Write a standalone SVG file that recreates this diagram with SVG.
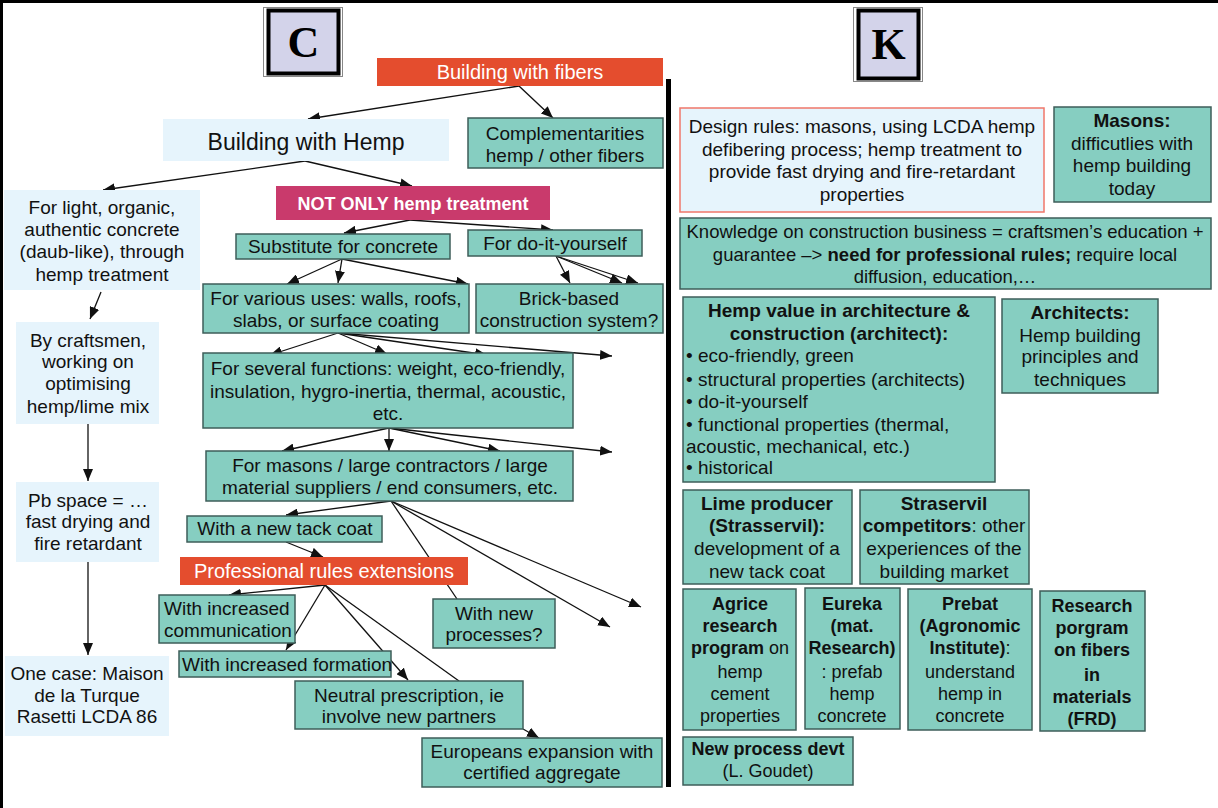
<svg xmlns="http://www.w3.org/2000/svg" width="1218" height="808" viewBox="0 0 1218 808">
<defs>
<style>
.t{font-family:"Liberation Sans",Arial,Helvetica,sans-serif;font-size:19px;fill:#111}
.s{font-size:18px}
.b{font-weight:bold}
.c{text-anchor:middle}
.w{fill:#fff}
.teal{fill:#86cec1;stroke:#3e5e59;stroke-width:1.5}
.lb{fill:#e6f4fc}
.org{fill:#e44d2e}
.conn line{stroke:#111;stroke-width:1.3}
.conn line.a{marker-end:url(#ah)}
.lt{font-family:"Liberation Serif","Times New Roman",serif;font-weight:bold;font-size:44px;fill:#000;text-anchor:middle}
</style>
<marker id="ah" markerWidth="12" markerHeight="10" refX="12" refY="5" orient="auto" markerUnits="userSpaceOnUse"><path d="M0,0 L12,5 L0,10 z" fill="#111"/></marker>
</defs>
<rect x="0" y="0" width="1218" height="808" fill="#fff"/>
<!-- frame -->
<line x1="0" y1="1.5" x2="1218" y2="1.5" stroke="#000" stroke-width="3"/>
<line x1="1.5" y1="0" x2="1.5" y2="808" stroke="#000" stroke-width="3"/>
<!-- divider -->
<line x1="668.5" y1="79" x2="668.5" y2="787" stroke="#000" stroke-width="5"/>

<g id="label-C">
<rect x="263.5" y="7.5" width="79" height="69" fill="none" stroke="#888" stroke-width="1"/>
<rect x="268.5" y="10.5" width="70" height="63" fill="#d3d3ea" stroke="#000" stroke-width="4"/>
<text class="lt" x="303.5" y="57">C</text>
</g>
<g id="label-K">
<rect x="853.5" y="7.5" width="69" height="74" fill="none" stroke="#888" stroke-width="1"/>
<rect x="858.5" y="10.5" width="60" height="68" fill="#d3d3ea" stroke="#000" stroke-width="4"/>
<text class="lt" x="888.5" y="59">K</text>
</g>

<g id="connectors" class="conn">
<line class="a" x1="519" y1="86" x2="308" y2="119"/>
<line class="a" x1="519" y1="86" x2="553" y2="118"/>
<line class="a" x1="305" y1="161" x2="103" y2="190"/>
<line class="a" x1="305" y1="161" x2="412" y2="186"/>
<line class="a" x1="101" y1="292" x2="90" y2="319"/>
<line class="a" x1="410" y1="220" x2="344" y2="233"/>
<line class="a" x1="410" y1="220" x2="553" y2="230"/>
<line class="a" x1="342" y1="259" x2="287" y2="284"/>
<line class="a" x1="342" y1="259" x2="338" y2="283"/>
<line class="a" x1="342" y1="259" x2="468" y2="284"/>
<line class="a" x1="556" y1="256" x2="570" y2="283"/>
<line class="a" x1="556" y1="256" x2="622" y2="283"/>
<line class="a" x1="556" y1="256" x2="638" y2="283"/>
<line class="a" x1="338" y1="333" x2="270" y2="355"/>
<line class="a" x1="338" y1="333" x2="387" y2="354"/>
<line class="a" x1="338" y1="333" x2="487" y2="355"/>
<line class="a" x1="338" y1="333" x2="612" y2="356"/>
<line class="a" x1="88" y1="424" x2="88" y2="481"/>
<line class="a" x1="389" y1="428" x2="282" y2="451"/>
<line class="a" x1="389" y1="428" x2="389" y2="451"/>
<line class="a" x1="389" y1="428" x2="500" y2="451"/>
<line class="a" x1="389" y1="428" x2="612" y2="452"/>
<line class="a" x1="88" y1="562" x2="88" y2="655"/>
<line class="a" x1="391" y1="501" x2="286" y2="515"/>
<line x1="391" y1="501" x2="457" y2="599"/>
<line class="a" x1="391" y1="501" x2="610" y2="627"/>
<line class="a" x1="391" y1="501" x2="641" y2="607"/>
<line class="a" x1="286" y1="542" x2="323" y2="557"/>
<line class="a" x1="325" y1="585" x2="229" y2="595"/>
<line class="a" x1="325" y1="585" x2="286" y2="650"/>
<line class="a" x1="325" y1="585" x2="408" y2="680"/>
<line x1="325" y1="585" x2="459" y2="681"/>
<line class="a" x1="523" y1="729" x2="539" y2="738"/>
</g>

<!-- C side nodes -->
<g id="n-fibers">
<rect class="org" x="377" y="58" width="286" height="28"/>
<text class="t c w" x="520" y="79" style="font-size:20px">Building with fibers</text>
</g>
<g id="n-hemp">
<rect class="lb" x="163" y="119" width="286" height="42"/>
<text class="t c" x="306" y="150" style="font-size:23px">Building with Hemp</text>
</g>
<g id="n-compl">
<rect class="teal" x="468" y="118" width="195" height="50"/>
<text class="t c" x="565" y="140">Complementarities</text>
<text class="t c" x="565" y="162">hemp / other fibers</text>
</g>
<g id="n-notonly">
<rect x="276" y="186" width="274" height="34" fill="#c93a6c"/>
<text class="t c b w" x="413" y="210" style="font-size:18px">NOT ONLY hemp treatment</text>
</g>
<g id="n-light">
<rect class="lb" x="4" y="190" width="196" height="100"/>
<text class="t c" x="102" y="214">For light, organic,</text>
<text class="t c" x="102" y="236">authentic concrete</text>
<text class="t c" x="102" y="258">(daub-like), through</text>
<text class="t c" x="102" y="281">hemp treatment</text>
</g>
<g id="n-craftsmen">
<rect class="lb" x="16" y="322" width="143" height="102"/>
<text class="t c" x="88" y="347">By craftsmen,</text>
<text class="t c" x="88" y="368">working on</text>
<text class="t c" x="88" y="390">optimising</text>
<text class="t c" x="88" y="413">hemp/lime mix</text>
</g>
<g id="n-pb">
<rect class="lb" x="16" y="482" width="143" height="80"/>
<text class="t c" x="88" y="507">Pb space = …</text>
<text class="t c" x="88" y="528">fast drying and</text>
<text class="t c" x="88" y="550">fire retardant</text>
</g>
<g id="n-case">
<rect class="lb" x="5" y="656" width="164" height="80"/>
<text class="t c" x="87" y="680">One case: Maison</text>
<text class="t c" x="87" y="702">de la Turque</text>
<text class="t c" x="87" y="723">Rasetti LCDA 86</text>
</g>
<g id="n-substitute">
<rect class="teal" x="236" y="234" width="214" height="25"/>
<text class="t c" x="343" y="253">Substitute for concrete</text>
</g>
<g id="n-diy">
<rect class="teal" x="468" y="230" width="174" height="26"/>
<text class="t c" x="555" y="250">For do-it-yourself</text>
</g>
<g id="n-uses">
<rect class="teal" x="203" y="284" width="266" height="49"/>
<text class="t c" x="336" y="305">For various uses: walls, roofs,</text>
<text class="t c" x="336" y="327">slabs, or surface coating</text>
</g>
<g id="n-brick">
<rect class="teal" x="476" y="284" width="187" height="49"/>
<text class="t c" x="569" y="305">Brick-based</text>
<text class="t c" x="569" y="327">construction system?</text>
</g>
<g id="n-functions">
<rect class="teal" x="203" y="353" width="370" height="75"/>
<text class="t c" x="388" y="375">For several functions: weight, eco-friendly,</text>
<text class="t c" x="388" y="398">insulation, hygro-inertia, thermal, acoustic,</text>
<text class="t c" x="388" y="420">etc.</text>
</g>
<g id="n-masons-c">
<rect class="teal" x="206" y="451" width="367" height="50"/>
<text class="t c" x="390" y="472">For masons / large contractors / large</text>
<text class="t c" x="390" y="494">material suppliers / end consumers, etc.</text>
</g>
<g id="n-tack">
<rect class="teal" x="187" y="516" width="195" height="26"/>
<text class="t c" x="285" y="535">With a new tack coat</text>
</g>
<g id="n-prof">
<rect class="org" x="180" y="557" width="288" height="28"/>
<text class="t c w" x="324" y="578" style="font-size:20px">Professional rules extensions</text>
</g>
<g id="n-comm">
<rect class="teal" x="159" y="595" width="136" height="48"/>
<text class="t" x="164" y="615">With increased</text>
<text class="t" x="164" y="637">communication</text>
</g>
<g id="n-formation">
<rect class="teal" x="179" y="651" width="212" height="26"/>
<text class="t" x="182" y="671">With increased formation</text>
</g>
<g id="n-newproc">
<rect class="teal" x="433" y="599" width="122" height="49"/>
<text class="t c" x="494" y="620">With new</text>
<text class="t c" x="494" y="641">processes?</text>
</g>
<g id="n-neutral">
<rect class="teal" x="295" y="681" width="228" height="48"/>
<text class="t c" x="409" y="702">Neutral prescription, ie</text>
<text class="t c" x="409" y="723">involve new partners</text>
</g>
<g id="n-europe">
<rect class="teal" x="422" y="738" width="240" height="49"/>
<text class="t c" x="542" y="758">Europeans expansion with</text>
<text class="t c" x="542" y="779">certified aggregate</text>
</g>

<!-- K side nodes -->
<g id="k-design">
<rect x="680" y="108" width="364" height="104" fill="#e6f4fc" stroke="#f0776a" stroke-width="1.5"/>
<text class="t c" x="862" y="133">Design rules: masons, using LCDA hemp</text>
<text class="t c" x="862" y="156">defibering process; hemp treatment to</text>
<text class="t c" x="862" y="178">provide fast drying and fire-retardant</text>
<text class="t c" x="862" y="201">properties</text>
</g>
<g id="k-masons">
<rect class="teal" x="1054" y="107" width="157" height="95"/>
<text class="t c b" x="1132" y="127">Masons:</text>
<text class="t c" x="1132" y="150">difficutlies with</text>
<text class="t c" x="1132" y="172">hemp building</text>
<text class="t c" x="1132" y="195">today</text>
</g>
<g id="k-knowledge">
<rect class="teal" x="680" y="218" width="531" height="71"/>
<text class="t c" x="945" y="238" style="font-size:18.5px">Knowledge on construction business = craftsmen’s education +</text>
<text class="t c" x="945" y="261" style="font-size:18.5px">guarantee –&gt; <tspan class="b">need for professional rules;</tspan> require local</text>
<text class="t c" x="945" y="283" style="font-size:18.5px">diffusion, education,…</text>
</g>
<g id="k-hempvalue">
<rect class="teal" x="683" y="297" width="312" height="185"/>
<text class="t c b" x="839" y="317">Hemp value in architecture &amp;</text>
<text class="t c b" x="839" y="340">construction (architect):</text>
<text class="t" x="686" y="362">• eco-friendly, green</text>
<text class="t" x="686" y="386">• structural properties (architects)</text>
<text class="t" x="686" y="408">• do-it-yourself</text>
<text class="t" x="686" y="431">• functional properties (thermal,</text>
<text class="t" x="686" y="453">acoustic, mechanical, etc.)</text>
<text class="t" x="686" y="474">• historical</text>
</g>
<g id="k-architects">
<rect class="teal" x="1002" y="299" width="156" height="94"/>
<text class="t c b" x="1080" y="319">Architects:</text>
<text class="t c" x="1080" y="342">Hemp building</text>
<text class="t c" x="1080" y="363">principles and</text>
<text class="t c" x="1080" y="386">techniques</text>
</g>
<g id="k-lime">
<rect class="teal" x="683" y="490" width="169" height="94"/>
<text class="t c b" x="767" y="510">Lime producer</text>
<text class="t c b" x="767" y="532">(Strasservil):</text>
<text class="t c" x="767" y="555">development of a</text>
<text class="t c" x="767" y="578">new tack coat</text>
</g>
<g id="k-competitors">
<rect class="teal" x="860" y="490" width="169" height="94"/>
<text class="t c b" x="944" y="510">Straservil</text>
<text class="t c" x="944" y="532"><tspan class="b">competitors</tspan>: other</text>
<text class="t c" x="944" y="555">experiences of the</text>
<text class="t c" x="944" y="578">building market</text>
</g>
<g id="k-agrice">
<rect class="teal" x="683" y="589" width="113" height="141"/>
<text class="t c b s" x="740" y="610">Agrice</text>
<text class="t c b s" x="740" y="632">research</text>
<text class="t c s" x="740" y="654"><tspan class="b">program</tspan> on</text>
<text class="t c s" x="740" y="678">hemp</text>
<text class="t c s" x="740" y="700">cement</text>
<text class="t c s" x="740" y="722">properties</text>
</g>
<g id="k-eureka">
<rect class="teal" x="805" y="588" width="95" height="141"/>
<text class="t c b s" x="852" y="610">Eureka</text>
<text class="t c b s" x="852" y="632">(mat.</text>
<text class="t c b s" x="852" y="654">Research)</text>
<text class="t c s" x="852" y="678">: prefab</text>
<text class="t c s" x="852" y="700">hemp</text>
<text class="t c s" x="852" y="722">concrete</text>
</g>
<g id="k-prebat">
<rect class="teal" x="908" y="589" width="124" height="141"/>
<text class="t c b s" x="970" y="610">Prebat</text>
<text class="t c b s" x="970" y="632">(Agronomic</text>
<text class="t c s" x="970" y="654"><tspan class="b">Institute)</tspan>:</text>
<text class="t c s" x="970" y="678">understand</text>
<text class="t c s" x="970" y="700">hemp in</text>
<text class="t c s" x="970" y="722">concrete</text>
</g>
<g id="k-research">
<rect class="teal" x="1040" y="591" width="105" height="140"/>
<text class="t c b s" x="1092" y="612">Research</text>
<text class="t c b s" x="1092" y="634">porgram</text>
<text class="t c b s" x="1092" y="656">on fibers</text>
<text class="t c b s" x="1092" y="681">in</text>
<text class="t c b s" x="1092" y="703">materials</text>
<text class="t c b s" x="1092" y="725">(FRD)</text>
</g>
<g id="k-newprocess">
<rect class="teal" x="683" y="737" width="170" height="48"/>
<text class="t c b s" x="768" y="755">New process devt</text>
<text class="t c s" x="768" y="777">(L. Goudet)</text>
</g>
</svg>
